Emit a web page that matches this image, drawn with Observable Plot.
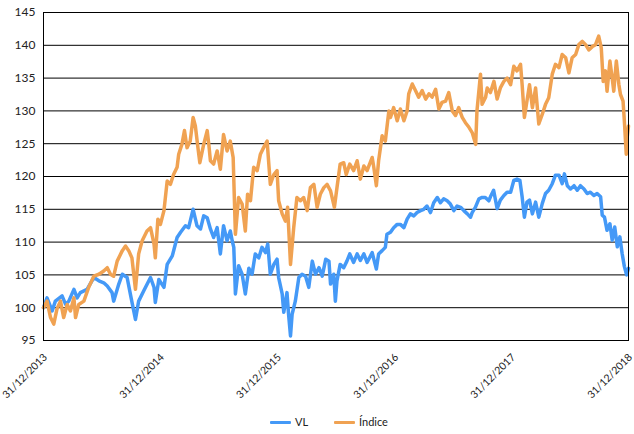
<!DOCTYPE html>
<html><head><meta charset="utf-8">
<script src="https://cdn.jsdelivr.net/npm/d3@7"></script>
<script src="https://cdn.jsdelivr.net/npm/@observablehq/plot@0.6"></script>
<style>
body{margin:0;background:#fff;font-family:Lato,"Open Sans",sans-serif;}
#wrap{position:relative;width:634px;height:434px;overflow:hidden;}
.leg{position:absolute;top:414px;font-size:11px;color:#222;display:flex;align-items:center;line-height:16px}
.leg i{display:inline-block;width:21px;height:3px;margin-right:4px;border-radius:1px}
</style></head><body>
<div id="wrap"><div id="chart"></div></div>
<script>
const seriesNames = ["VL", "Índice"];
const seriesColors = ["#4499f7", "#f0a252"];
const legendLeft = [270, 334];
const yTicks = [95, 100, 105, 110, 115, 120, 125, 130, 135, 140, 145];
const xTicks = ["2013-12-31", "2014-12-31", "2015-12-31", "2016-12-31", "2017-12-31", "2018-12-31"];

const vlDates = ["2013-12-31","2014-01-11","2014-01-27","2014-02-06","2014-02-27","2014-03-10","2014-03-20","2014-04-05","2014-04-15","2014-04-25","2014-05-16","2014-06-06","2014-06-22","2014-07-07","2014-07-18","2014-08-02","2014-08-07","2014-08-23","2014-09-03","2014-09-18","2014-09-28","2014-10-14","2014-10-24","2014-11-09","2014-11-30","2014-12-11","2014-12-15","2014-12-26","2015-01-11","2015-01-21","2015-02-06","2015-02-21","2015-03-04","2015-03-19","2015-03-29","2015-04-12","2015-04-24","2015-05-05","2015-05-15","2015-05-26","2015-06-05","2015-06-15","2015-06-26","2015-07-06","2015-07-16","2015-07-27","2015-08-06","2015-08-12","2015-08-17","2015-08-22","2015-09-01","2015-09-12","2015-09-22","2015-10-03","2015-10-13","2015-10-23","2015-11-03","2015-11-13","2015-11-24","2015-12-01","2015-12-09","2015-12-20","2015-12-30","2016-01-04","2016-01-15","2016-01-20","2016-01-30","2016-02-04","2016-02-10","2016-02-15","2016-02-25","2016-03-07","2016-03-17","2016-03-28","2016-04-07","2016-04-18","2016-04-28","2016-05-09","2016-05-19","2016-05-30","2016-06-09","2016-06-14","2016-06-24","2016-06-29","2016-07-04","2016-07-14","2016-07-25","2016-08-04","2016-08-13","2016-08-25","2016-09-05","2016-09-15","2016-09-26","2016-10-06","2016-10-22","2016-10-27","2016-11-04","2016-11-11","2016-11-22","2016-12-02","2016-12-07","2016-12-18","2016-12-28","2017-01-08","2017-01-18","2017-01-29","2017-02-08","2017-02-18","2017-03-01","2017-03-11","2017-03-22","2017-04-01","2017-04-11","2017-04-22","2017-05-02","2017-05-13","2017-05-23","2017-06-02","2017-06-13","2017-06-23","2017-07-04","2017-07-14","2017-07-25","2017-08-04","2017-08-15","2017-08-25","2017-08-30","2017-09-09","2017-09-20","2017-09-30","2017-10-10","2017-10-21","2017-10-26","2017-11-05","2017-11-16","2017-11-26","2017-12-07","2017-12-17","2017-12-28","2018-01-07","2018-01-17","2018-01-26","2018-02-02","2018-02-09","2018-02-17","2018-02-25","2018-03-06","2018-03-16","2018-03-26","2018-04-06","2018-04-16","2018-04-26","2018-05-07","2018-05-17","2018-05-28","2018-06-07","2018-06-14","2018-06-23","2018-07-03","2018-07-14","2018-07-24","2018-08-03","2018-08-14","2018-08-24","2018-09-03","2018-09-14","2018-09-24","2018-10-05","2018-10-10","2018-10-17","2018-10-25","2018-11-03","2018-11-10","2018-11-18","2018-11-26","2018-12-04","2018-12-11","2018-12-18","2018-12-25","2018-12-31"];
const vlValues = [100,101.5,99.5,101,101.8,100.5,101,102.8,101.5,102.3,102.8,104.6,104.1,103.8,103.3,102.3,101,103.6,105.1,104.6,102.1,98.2,101,102.6,104.6,103.1,100.8,104.3,103.1,106.6,107.9,110.7,111.5,112.5,112.2,115,112.5,112,114,113.7,112,110.7,112.2,108.2,112.5,110.2,111.7,110.2,109.2,102.1,106.4,105.1,102.1,106,105.1,108.2,107.6,109.2,108.4,109.7,105.1,106.6,107.4,104.6,102.1,99.3,102.3,99,95.7,99,101,104.6,105.1,104.8,103.1,107.1,105.1,106.1,104.8,107.4,107.1,103.6,105.1,101,104.1,106.6,106.1,107.1,108.2,106.9,108.2,107.2,108.2,106.9,108.4,107.4,105.9,108.2,108.7,109.2,111.2,111.5,112.2,112.7,112.7,112.2,113.5,114.3,114,114.5,114.8,115,115.5,114.5,116,116.8,116,116.6,116.3,115.8,114.8,115.5,115.3,114.8,114.3,113.8,114.5,115.3,116.6,116.8,116.8,116.3,116.9,117.9,115.1,116.4,117.1,117.6,117.6,119.4,119.6,119.4,116.9,113.8,116.1,116.4,114.3,116.1,113.8,115.9,117.4,117.9,118.9,120.2,120.2,118.9,120.4,118.6,118.1,118.6,117.9,118.6,118.1,117.4,117.6,117.1,117.4,116.9,114.1,113.8,111.8,112.8,110.3,112.3,109.3,110.8,108.3,106.3,105,106];

const idxDates = ["2013-12-31","2014-01-11","2014-01-22","2014-02-01","2014-02-11","2014-02-22","2014-03-04","2014-03-15","2014-03-25","2014-04-05","2014-04-10","2014-04-20","2014-05-06","2014-05-21","2014-06-06","2014-06-22","2014-07-07","2014-07-18","2014-07-28","2014-08-07","2014-08-18","2014-09-03","2014-09-13","2014-09-23","2014-10-03","2014-10-14","2014-10-24","2014-11-04","2014-11-19","2014-11-30","2014-12-11","2014-12-15","2014-12-23","2014-12-31","2015-01-11","2015-01-21","2015-01-31","2015-02-10","2015-02-21","2015-02-26","2015-03-08","2015-03-16","2015-03-24","2015-04-03","2015-04-12","2015-04-19","2015-04-27","2015-05-03","2015-05-15","2015-05-26","2015-05-31","2015-06-05","2015-06-15","2015-06-26","2015-07-06","2015-07-16","2015-07-27","2015-08-06","2015-08-15","2015-08-22","2015-09-01","2015-09-12","2015-09-22","2015-09-29","2015-10-08","2015-10-18","2015-10-29","2015-11-08","2015-11-18","2015-11-29","2015-12-09","2015-12-20","2015-12-30","2016-01-04","2016-01-15","2016-01-25","2016-02-01","2016-02-10","2016-02-20","2016-03-01","2016-03-12","2016-03-22","2016-04-02","2016-04-12","2016-04-23","2016-05-03","2016-05-13","2016-05-24","2016-06-03","2016-06-14","2016-06-26","2016-07-04","2016-07-14","2016-07-25","2016-08-02","2016-08-13","2016-08-25","2016-09-05","2016-09-15","2016-09-26","2016-10-06","2016-10-22","2016-10-27","2016-11-04","2016-11-11","2016-11-22","2016-12-02","2016-12-13","2016-12-18","2016-12-28","2017-01-08","2017-01-18","2017-01-29","2017-02-08","2017-02-13","2017-02-24","2017-03-06","2017-03-16","2017-03-27","2017-04-07","2017-04-17","2017-04-27","2017-05-08","2017-05-18","2017-05-28","2017-06-08","2017-06-18","2017-06-29","2017-07-09","2017-07-19","2017-07-30","2017-08-09","2017-08-20","2017-08-30","2017-09-10","2017-09-14","2017-09-25","2017-09-30","2017-10-11","2017-10-16","2017-10-26","2017-11-06","2017-11-16","2017-11-26","2017-12-07","2017-12-17","2017-12-28","2018-01-07","2018-01-17","2018-01-28","2018-02-02","2018-02-09","2018-02-17","2018-02-25","2018-03-06","2018-03-16","2018-03-26","2018-04-06","2018-04-16","2018-04-26","2018-05-07","2018-05-17","2018-05-28","2018-06-07","2018-06-18","2018-06-28","2018-07-08","2018-07-19","2018-07-29","2018-08-09","2018-08-19","2018-08-29","2018-09-09","2018-09-19","2018-09-29","2018-10-07","2018-10-13","2018-10-20","2018-10-25","2018-11-03","2018-11-10","2018-11-15","2018-11-23","2018-12-01","2018-12-06","2018-12-14","2018-12-18","2018-12-24","2018-12-27","2018-12-31"];
const idxValues = [100,101,98.5,97.5,99.8,101,98.5,100.5,99.5,101.5,98.5,100.5,101,103.1,104.8,105.1,105.6,106.1,105.1,104.8,107.1,108.7,109.4,108.7,107.6,102.8,108.2,110.2,111.7,112.2,109.7,107.6,113.5,112.7,114.8,119.3,118.8,120.3,121.4,123.4,124.9,127,124.4,125.4,129,127.7,124.4,122.1,124.9,127,124.9,122.4,121.9,123.9,121.1,126.4,123.9,125.4,122.9,111.2,116.8,115.8,111.7,117.3,116.3,121.4,120.9,123.4,124.4,125.4,118.8,120.3,120.9,116.3,114.3,113.2,115.3,106.6,112.2,116.8,116.3,116.8,114.8,118.3,118.8,115.3,117.3,118.3,118.8,117.8,115.3,118.3,121.9,122.1,120.3,121.9,120.9,122.4,119.6,121.6,120.9,122.9,121.4,118.6,122.4,126.2,125.4,130,129,130.5,128.5,130.3,128.5,130,132.6,134.1,133.1,132.1,133.1,131.8,132.6,132.1,133.3,130.3,131.3,131.5,132.8,130,129.3,130.5,129,128.2,127.5,126.7,124.9,130,135.6,131,132.1,133.5,132.8,134.5,131.8,133.5,134.5,135,134,136.8,136.1,137.1,134,129,131.5,134,130.5,133.5,128,129.5,131,132,135.6,137.1,136.6,138.6,138.1,135.8,138.1,138.6,140.1,140.6,140.1,139.3,139.8,140.1,141.4,139.6,134.5,136.1,133,137.6,135,133,137.6,134,132.5,131.5,128.5,123.4,126,127.7];

const parse = d3.utcParse("%Y-%m-%d");
const data = [
  ...vlDates.map((d, i) => ({date: parse(d), value: vlValues[i], series: seriesNames[0]})),
  ...idxDates.map((d, i) => ({date: parse(d), value: idxValues[i], series: seriesNames[1]}))
];
const fmt = d3.utcFormat("%d/%m/%Y");

const chart = Plot.plot({
  width: 634, height: 405,
  marginLeft: 43, marginRight: 6, marginTop: 12, marginBottom: 65,
  style: {fontFamily: "Lato, 'Open Sans', sans-serif", fontSize: "11px", color: "#222", background: "white", overflow: "visible"},
  x: {type: "utc", domain: [parse(xTicks[0]), parse(xTicks[xTicks.length - 1])]},
  y: {domain: [yTicks[0], yTicks[yTicks.length - 1]]},
  color: {domain: seriesNames, range: seriesColors},
  marks: [
    Plot.ruleY(yTicks, {stroke: "#000", strokeWidth: 1}),
    Plot.line(data, {x: "date", y: "value", z: "series", stroke: "series", strokeWidth: 3.5, strokeLinejoin: "round", strokeLinecap: "round"}),
    Plot.frame({stroke: "#000"}),
    Plot.axisY({ticks: yTicks, tickSize: 0, tickPadding: 8, label: null, fontSize: 12}),
    Plot.axisX({ticks: xTicks.map(parse), tickFormat: fmt, tickRotate: -45, tickSize: 0, tickPadding: 6, dx: 2, dy: 9, label: null, fontSize: 10.5})
  ]
});
const wrap = document.getElementById("wrap");
document.getElementById("chart").appendChild(chart);
seriesNames.forEach((name, i) => {
  const el = document.createElement("div");
  el.className = "leg";
  el.style.left = legendLeft[i] + "px";
  el.innerHTML = `<i style="background:${seriesColors[i]}"></i>${name}`;
  wrap.appendChild(el);
});
</script>
</body></html>
